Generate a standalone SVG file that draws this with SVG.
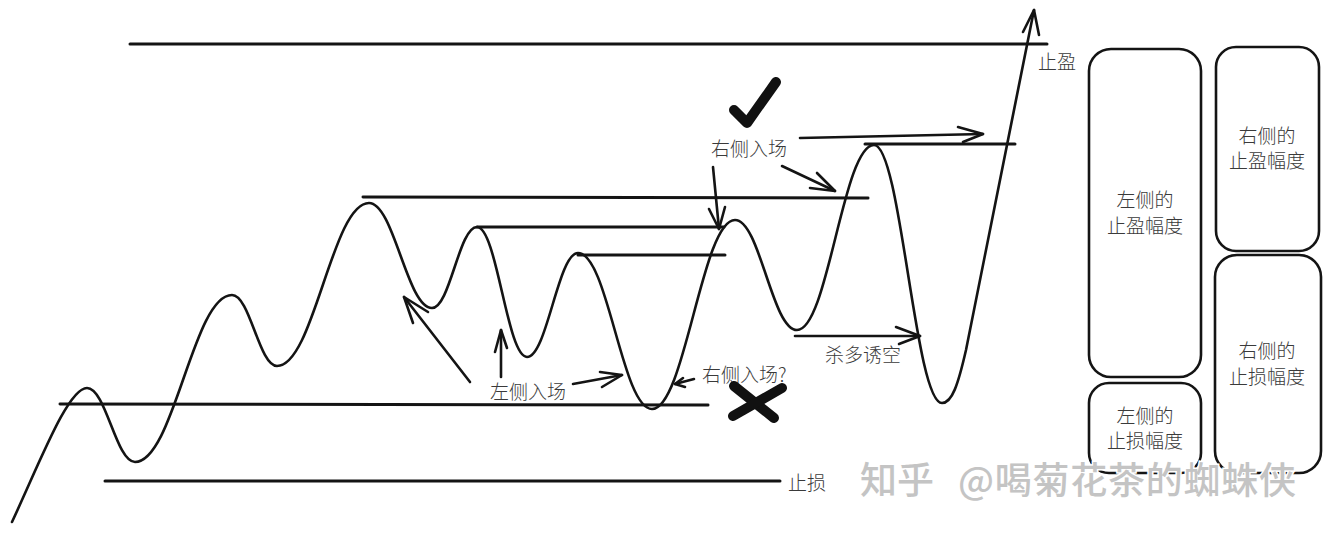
<svg xmlns="http://www.w3.org/2000/svg" width="1330" height="534" viewBox="0 0 1330 534">
<style>
.ln{stroke:#141414;stroke-width:3;fill:none;stroke-linecap:round}
.wave{stroke:#141414;stroke-width:2.6;fill:none;stroke-linejoin:round;stroke-linecap:round}
.ar{stroke:#141414;stroke-width:2.6;fill:none;stroke-linecap:round;stroke-linejoin:round}
.bx{stroke:#141414;stroke-width:2.6;fill:none}
.t{font-family:"Noto Sans CJK SC","Noto Sans",sans-serif;font-size:19px;fill:#3a3a3a;font-weight:300}
.tc{text-anchor:middle}
.mark{stroke:#111;stroke-width:10;fill:none;stroke-linecap:round;stroke-linejoin:round}
.wm{font-family:"Noto Sans CJK SC","Noto Sans",sans-serif;font-size:37px;fill:#c4c4c4;stroke:#fff;stroke-width:3;paint-order:stroke;font-weight:500}
</style>
<rect width="1330" height="534" fill="#fff"/>
<g id="levels">
<line class="ln" x1="130" y1="44" x2="1047" y2="44"/>
<line class="ln" x1="363" y1="197" x2="868" y2="198"/>
<line class="ln" x1="477" y1="227" x2="724" y2="227"/>
<line class="ln" x1="578" y1="255" x2="725" y2="255"/>
<line class="ln" x1="865" y1="144" x2="1015" y2="144"/>
<line class="ln" x1="60" y1="404" x2="708" y2="405"/>
<line class="ln" x1="105" y1="481" x2="780" y2="481"/>
</g>
<g id="price">
<path class="wave" d="M12,522 C40,462 68,388 87,388 C106,388 116,462 135,462 C174,462 193,295 232,295 C250,295 259,366 277,366 C314,366 332,203 369,203 C394,203 407,308 432,308 C450,308 459,227 477,227 C497,227 507,357 527,357 C547,357 558,253 578,253 C608,253 622,409 652,409 C685,409 702,220 735,220 C760,220 772,330 797,330 C828,330 843,145 874,145 C901,145 915,403 942,403 C952,403 958,385 966,350 L1034,10"/>
<polyline class="ar" points="1023,32 1034,10 1039,35"/>
</g>
<g id="connectors">
<line class="ar" x1="470" y1="382" x2="404" y2="297"/>
<polyline class="ar" points="413,323 404,297 428,312"/>
<line class="ar" x1="501" y1="377" x2="501" y2="330"/>
<polyline class="ar" points="495,352 501,330 507,348"/>
<line class="ar" x1="573" y1="384" x2="622" y2="375"/>
<polyline class="ar" points="600,372 622,375 602,387"/>
<line class="ar" x1="694" y1="379" x2="675" y2="384"/>
<polyline class="ar" points="683,378 675,384 685,387"/>
<line class="ar" x1="713" y1="167" x2="719" y2="229"/>
<polyline class="ar" points="709,209 719,229 725,207"/>
<line class="ar" x1="782" y1="166" x2="835" y2="191"/>
<polyline class="ar" points="817,173 835,191 810,188"/>
<line class="ar" x1="800" y1="138" x2="983" y2="134"/>
<polyline class="ar" points="958,127 983,134 963,142"/>
<line class="ar" x1="795" y1="336" x2="920" y2="336"/>
<polyline class="ar" points="896,327 920,336 899,344"/>
</g>
<g id="labels">
<text class="t" x="490" y="399">左侧入场</text>
<text class="t" x="702" y="382">右侧入场?</text>
<text class="t" x="711" y="156">右侧入场</text>
<text class="t" x="825" y="362">杀多诱空</text>
<text class="t" x="1038" y="69">止盈</text>
<text class="t" x="788" y="490">止损</text>
</g>
<g id="check"><polyline class="mark" points="734,110 747,123 776,82"/></g>
<g id="cross">
<line class="mark" x1="734" y1="386" x2="774" y2="418"/>
<line class="mark" x1="782" y1="388" x2="733" y2="416"/>
</g>
<g id="box-left-profit">
<rect class="bx" x="1089" y="49" width="112" height="328" rx="22"/>
<text class="t tc" x="1145" y="207">左侧的</text>
<text class="t tc" x="1145" y="233">止盈幅度</text>
</g>
<g id="box-left-loss">
<rect class="bx" x="1089" y="383" width="112" height="90" rx="20"/>
<text class="t tc" x="1145" y="423">左侧的</text>
<text class="t tc" x="1145" y="448">止损幅度</text>
</g>
<g id="box-right-profit">
<rect class="bx" x="1216" y="47" width="103" height="204" rx="20"/>
<text class="t tc" x="1267" y="143">右侧的</text>
<text class="t tc" x="1267" y="168">止盈幅度</text>
</g>
<g id="box-right-loss">
<rect class="bx" x="1215" y="255" width="106" height="218" rx="22"/>
<text class="t tc" x="1267" y="358">右侧的</text>
<text class="t tc" x="1267" y="384">止损幅度</text>
</g>
<g id="watermark">
<text class="wm" x="860" y="494">知乎</text>
<text class="wm" x="958" y="494" textLength="338" lengthAdjust="spacing">@喝菊花茶的蜘蛛侠</text>
</g>
</svg>
